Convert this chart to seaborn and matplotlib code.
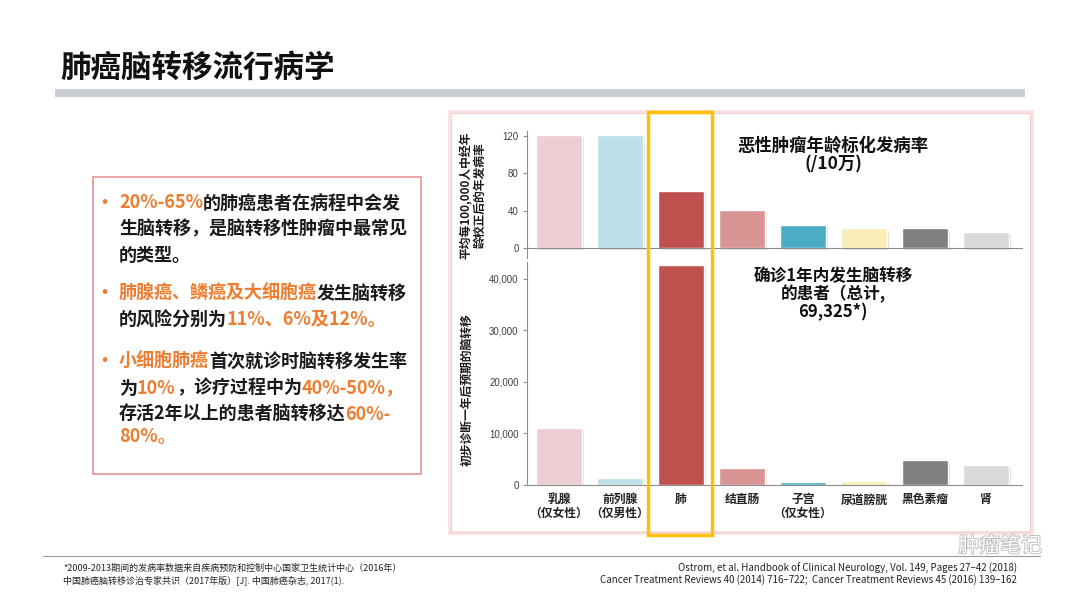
import matplotlib

matplotlib.use("Agg")

import matplotlib.patheffects as pe
import matplotlib.pyplot as plt
import seaborn as sns
from matplotlib.patches import Rectangle

W, H = 1080, 606

# data
cancer_types = ["乳腺\n（仅女性）", "前列腺\n（仅男性）", "肺", "结直肠", "子宫\n（仅女性）", "尿道膀胱", "黑色素瘤", "肾"]
incidence_per_100k = [121, 121, 61, 40.5, 24.5, 21, 21, 17.5]
brain_mets_1yr = [11050, 1350, 42700, 3300, 500, 700, 4900, 3800]
bar_colors = ["#EDCDD2", "#BCDFE8", "#C0504D", "#D99594", "#4BACC6", "#FAEDB7", "#808080", "#D9D9D9"]
incidence_ticks = [0, 40, 80, 120]
mets_ticks = [0, 10000, 20000, 30000, 40000]

ORANGE = "#ED7D31"
BLACK = "#1a1a1a"
bullet_lines = [
    [("20%-65%", ORANGE), ("的肺癌患者在病程中会发", BLACK)],
    [("生脑转移，是脑转移性肿瘤中最常见", BLACK)],
    [("的类型。", BLACK)],
    [("肺腺癌、鳞癌及大细胞癌", ORANGE), ("发生脑转移", BLACK)],
    [("的风险分别为", BLACK), ("11%、6%及12%。", ORANGE)],
    [("小细胞肺癌", ORANGE), ("首次就诊时脑转移发生率", BLACK)],
    [("为", BLACK), ("10%", ORANGE), ("，诊疗过程中为", BLACK), ("40%-50%，", ORANGE)],
    [("存活2年以上的患者脑转移达", BLACK), ("60%-", ORANGE)],
    [("80%。", ORANGE)],
]
line_y = [203, 229, 255, 293, 320, 361, 388, 414, 437]
bullet_rows = [0, 3, 5]

sns.set_theme(style="white")
plt.rcParams["font.family"] = ["Noto Sans CJK SC", "DejaVu Sans"]


def fx(x):
    return x / W


def fy(y):
    return 1 - y / H


def rect(x0, y0, x1, y1):
    return [fx(x0), fy(y1), (x1 - x0) / W, (y1 - y0) / H]


def _shadow(ax):
    for p in ax.patches:
        p.set_path_effects([pe.SimplePatchShadow(offset=(1.5, -1.5), shadow_rgbFace="#888888", alpha=0.25), pe.Normal()])


def _style(ax):
    ax.set_facecolor("none")
    sns.despine(ax=ax)
    for s in ["left", "bottom"]:
        ax.spines[s].set_color("#8c8c8c")
        ax.spines[s].set_linewidth(0.8)
    ax.tick_params(axis="y", length=3, width=0.8, color="#8c8c8c", labelsize=7, labelcolor="#404040", pad=3, left=True)
    for lab in ax.get_yticklabels():
        lab.set_family(["Liberation Sans", "DejaVu Sans"])
    ax.set_xlabel("")
    ax.set_ylabel("")


fig = plt.figure(figsize=(W / 100, H / 100), dpi=100)
fig.patch.set_facecolor("white")

# header
fig.text(fx(60), fy(68), "肺癌脑转移流行病学", fontsize=22, weight="heavy", va="center", ha="left", color="#111111")
fig.add_artist(Rectangle((fx(55), fy(97)), (1025 - 55) / W, 8 / H, transform=fig.transFigure, fc="#C9CDD4", ec="none"))

# chart panel frame
fig.add_artist(Rectangle((fx(450), fy(533)), (1032 - 450) / W, (533 - 112) / H, transform=fig.transFigure,
                         fill=False, ec="#F9E3E3", lw=3, zorder=0))
fig.add_artist(Rectangle((fx(451), fy(532)), (1030 - 451) / W, (532 - 113) / H, transform=fig.transFigure,
                         fill=False, ec="#F2CDCD", lw=0.7, zorder=0))

# top: incidence
ax1 = fig.add_axes(rect(527, 131, 1022, 258))
sns.barplot(x=cancer_types, y=incidence_per_100k, hue=cancer_types, palette=bar_colors, legend=False,
            saturation=1, width=0.74, ax=ax1)
ax1.set_xlim(-0.525, 7.59)
ax1.set_ylim(-10.7, 125.4)
ax1.set_yticks(incidence_ticks)
ax1.spines["bottom"].set_position(("data", 0))
ax1.tick_params(axis="x", length=0, labelbottom=False)
_style(ax1)
_shadow(ax1)

# bottom: brain metastases within one year
ax2 = fig.add_axes(rect(527, 262, 1022, 485))
sns.barplot(x=cancer_types, y=brain_mets_1yr, hue=cancer_types, palette=bar_colors, legend=False,
            saturation=1, width=0.74, ax=ax2)
ax2.set_xlim(-0.525, 7.59)
ax2.set_ylim(0, 43240)
ax2.set_yticks(mets_ticks)
ax2.set_yticklabels([f"{v:,}" for v in mets_ticks])
ax2.tick_params(axis="x", length=0, pad=6, labelsize=8.5, labelcolor="#222222")
for lab in ax2.get_xticklabels():
    lab.set_fontweight("bold")
    lab.set_linespacing(1.05)
_style(ax2)
_shadow(ax2)

fig.text(fx(473), fy(195), "平均每100,000人中经年\n龄校正后的年发病率", rotation=90, ha="center", va="center",
         fontsize=8.5, weight="bold", linespacing=1.0, color="#1a1a1a")
fig.text(fx(467), fy(390), "初步诊断一年后预期的脑转移", rotation=90, ha="center", va="center",
         fontsize=8.5, weight="bold", color="#1a1a1a")

fig.text(fx(833), fy(155), "恶性肿瘤年龄标化发病率\n(/10万)", ha="center", va="center", fontsize=12.5,
         weight="bold", linespacing=1.1, color="#111111")
fig.text(fx(833), fy(294), "确诊1年内发生脑转移\n的患者（总计,\n69,325*)", ha="center", va="center", fontsize=12,
         weight="bold", linespacing=1.0, color="#111111")

# highlight on lung
fig.add_artist(Rectangle((fx(648), fy(535)), (712 - 648) / W, (535 - 112) / H, transform=fig.transFigure,
                         fill=False, ec="#FFC000", lw=2.5, zorder=10))

# left text box
fig.add_artist(Rectangle((fx(93), fy(474)), (421 - 93) / W, (474 - 177) / H, transform=fig.transFigure,
                         fill=False, ec="#EC9A9C", lw=1.3))
renderer = fig.canvas.get_renderer()
for i, (segs, y) in enumerate(zip(bullet_lines, line_y)):
    if i in bullet_rows:
        fig.text(fx(104), fy(y), "·", color=ORANGE, fontsize=13, weight="bold", ha="center", va="center")
    x = 119
    for s, c in segs:
        t = fig.text(fx(x), fy(y), s, color=c, fontsize=13, weight="bold", ha="left", va="center")
        x += t.get_window_extent(renderer).width

# footer
fig.add_artist(plt.Line2D([fx(43), fx(1040)], [fy(556), fy(556)], transform=fig.transFigure, color="#9a9a9a", lw=0.8))
foot_font = ["Liberation Sans Narrow", "Noto Sans CJK SC"]
fig.text(fx(63), fy(568), "*2009-2013期间的发病率数据来自疾病预防和控制中心国家卫生统计中心（2016年）", fontsize=6.5,
         family=foot_font, va="center", color="#222222")
fig.text(fx(63), fy(580), "中国肺癌脑转移诊治专家共识（2017年版）[J]. 中国肺癌杂志, 2017(1).", fontsize=6.5,
         family=foot_font, va="center", color="#222222")
fig.text(fx(1017), fy(568), "Ostrom, et al. Handbook of Clinical Neurology, Vol. 149, Pages 27–42 (2018)", fontsize=7,
         family=foot_font, va="center", ha="right", color="#222222")
fig.text(fx(1017), fy(580), "Cancer Treatment Reviews 40 (2014) 716–722;  Cancer Treatment Reviews 45 (2016) 139–162",
         fontsize=7, family=foot_font, va="center", ha="right", color="#222222")
fig.text(fx(1042), fy(546), "肿瘤笔记", fontsize=15, ha="right", va="center", color="white", zorder=12,
         path_effects=[pe.withStroke(linewidth=1.2, foreground="#b8b8b8")])

fig.savefig("out.png", dpi=100, facecolor="white")
